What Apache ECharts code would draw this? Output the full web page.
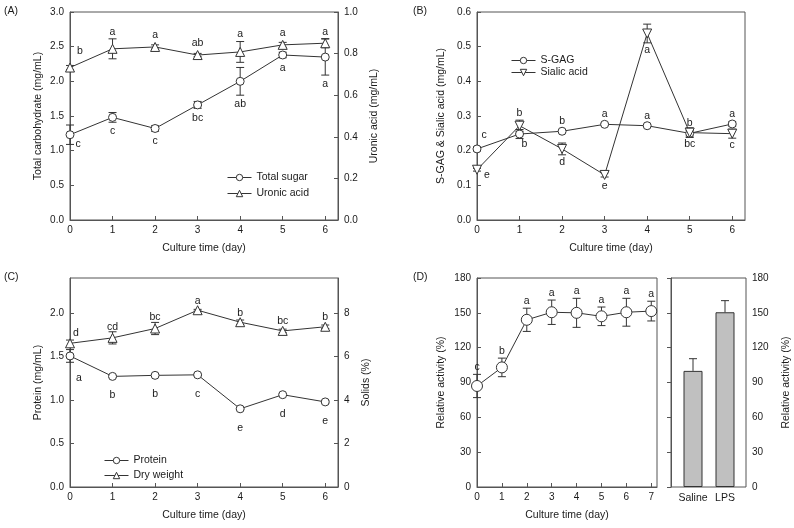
<!DOCTYPE html>
<html lang="en">
<head>
<meta charset="UTF-8">
<title>Culture time course</title>
<script src="https://cdn.jsdelivr.net/npm/echarts@6/dist/echarts.min.js"></script>
<style>
    html, body { margin: 0; background: #fff; }
    #main { width: 794px; height: 528px; }
</style>
</head>
<body>
<div id="main"></div>
<script type="text/javascript">
    // ---- data ----
    var days = [0, 1, 2, 3, 4, 5, 6];
    var daysD = [0, 1, 2, 3, 4, 5, 6, 7];

    // (A) total carbohydrate (left axis) and uronic acid (right axis)
    var totalSugar    = [1.23, 1.48, 1.32, 1.66, 2.00, 2.38, 2.35];
    var totalSugarErr = [0.14, 0.07, 0.04, 0.05, 0.20, 0.04, 0.26];
    var totalSugarSig = ['c', 'c', 'c', 'bc', 'ab', 'a', 'a'];
    var uronic        = [0.733, 0.823, 0.832, 0.793, 0.808, 0.842, 0.850];
    var uronicErr     = [0.010, 0.048, 0.010, 0.008, 0.050, 0.012, 0.022];
    var uronicSig     = ['b', 'a', 'a', 'ab', 'a', 'a', 'a'];

    // (B) S-GAG and sialic acid
    var sgag       = [0.205, 0.248, 0.256, 0.276, 0.272, 0.250, 0.277];
    var sgagErr    = [0.006, 0.013, 0.004, 0.003, 0.003, 0.008, 0.006];
    var sgagSig    = ['c', 'b', 'b', 'a', 'a', 'b', 'a'];
    var sialic     = [0.145, 0.272, 0.205, 0.130, 0.538, 0.252, 0.249];
    var sialicErr  = [0.004, 0.016, 0.017, 0.006, 0.027, 0.014, 0.013];
    var sialicSig  = ['e', 'b', 'd', 'e', 'a', 'bc', 'c'];

    // (C) protein (left axis) and dry weight (right axis)
    var protein    = [1.505, 1.270, 1.282, 1.288, 0.898, 1.060, 0.977];
    var proteinErr = [0.073, 0.012, 0.012, 0.010, 0.010, 0.010, 0.015];
    var proteinSig = ['a', 'b', 'b', 'c', 'e', 'd', 'e'];
    var dryWeight    = [6.60, 6.85, 7.28, 8.12, 7.57, 7.17, 7.36];
    var dryWeightErr = [0.15, 0.28, 0.28, 0.04, 0.10, 0.08, 0.08];
    var dryWeightSig = ['d', 'cd', 'bc', 'a', 'b', 'bc', 'b'];

    // (D) relative activity over culture time, and saline / LPS controls
    var activity    = [87, 103, 144, 150.5, 150, 147, 150.5, 151.5];
    var activityErr = [10, 8, 10, 10.5, 12.5, 8, 12, 8.5];
    var activitySig = ['c', 'b', 'a', 'a', 'a', 'a', 'a', 'a'];
    var groups      = ['Saline', 'LPS'];
    var groupVal    = [100, 150.5];
    var groupErr    = [10.5, 10];

    var INK = '#333';
    var FRAME = '#555';
    var FONT = 'Liberation Sans';
    var TXT = '#1a1a1a';
    var TICK_FS = 10;
    var NAME_FS = 10.5;

    var chart = echarts.init(document.getElementById('main'));

    // line series with open markers
    function lineSeries(name, xi, yi, xs, vals, symbol, size) {
        return {
            name: name, type: 'line', xAxisIndex: xi, yAxisIndex: yi, z: 3,
            data: xs.map(function (d, i) { return [d, vals[i]]; }),
            symbol: symbol, symbolSize: size, showAllSymbol: true,
            lineStyle: { color: INK, width: 1 },
            itemStyle: { color: '#fff', borderColor: INK, borderWidth: 1 },
            emphasis: { disabled: true }
        };
    }

    // error bars + significance letters
    // m: {place: [...], gap: px, off: {code: [dx, dy]}, r: marker radius}
    function errSeries(xi, yi, xs, vals, errs, sig, m, upOnly) {
        return {
            type: 'custom', xAxisIndex: xi, yAxisIndex: yi, z: 2, silent: true,
            data: xs.map(function (d, i) { return [d, vals[i], errs[i]]; }),
            renderItem: function (params, api) {
                var i = params.dataIndex;
                var x = api.value(0), y = api.value(1), e = api.value(2);
                var p = api.coord([x, y]);
                var hi = api.coord([x, y + e]);
                var lo = upOnly ? p : api.coord([x, y - e]);
                var cw = 4;
                var st = { stroke: INK, lineWidth: 1 };
                var kids = [
                    { type: 'line', shape: { x1: p[0], y1: lo[1], x2: p[0], y2: hi[1] }, style: st },
                    { type: 'line', shape: { x1: p[0] - cw, y1: hi[1], x2: p[0] + cw, y2: hi[1] }, style: st }
                ];
                if (!upOnly) {
                    kids.push({ type: 'line', shape: { x1: p[0] - cw, y1: lo[1], x2: p[0] + cw, y2: lo[1] }, style: st });
                }
                if (sig) {
                    var code = m.place[i], tx = p[0], ty;
                    if (code === 'u') ty = Math.min(p[1] - m.r, hi[1]) - m.gap;
                    else if (code === 'd') ty = Math.max(p[1] + m.r, lo[1]) + m.gap;
                    else { tx += m.off[code][0]; ty = p[1] + m.off[code][1]; }
                    kids.push({
                        type: 'text',
                        style: {
                            text: sig[i], x: tx, y: ty, fill: TXT,
                            textAlign: 'center', textVerticalAlign: 'middle',
                            fontSize: NAME_FS, fontFamily: FONT
                        }
                    });
                }
                return { type: 'group', children: kids };
            }
        };
    }

    function xTime(gi, max, ticks) {
        return {
            type: 'value', gridIndex: gi, min: 0, max: max,
            name: 'Culture time (day)', nameLocation: 'middle', nameGap: 23,
            nameTextStyle: { fontSize: NAME_FS, color: TXT, fontFamily: FONT },
            axisLine: { lineStyle: { color: FRAME } },
            axisTick: { inside: true, length: 4, customValues: ticks, lineStyle: { color: FRAME } },
            axisLabel: { customValues: ticks, margin: 5, fontSize: TICK_FS, color: TXT, fontFamily: FONT },
            splitLine: { show: false }
        };
    }

    function yAxis(gi, pos, max, ticks, dec, name, gap) {
        return {
            type: 'value', gridIndex: gi, position: pos, min: 0, max: max,
            name: name, nameLocation: 'middle', nameGap: gap, nameRotate: 90,
            nameTextStyle: { fontSize: NAME_FS, color: TXT, fontFamily: FONT },
            axisLine: { show: true, lineStyle: { color: FRAME } },
            axisTick: { show: true, inside: true, length: 4, customValues: ticks, lineStyle: { color: FRAME } },
            axisLabel: {
                customValues: ticks, margin: 6, fontSize: TICK_FS, color: TXT, fontFamily: FONT,
                formatter: function (v) { return v.toFixed(dec); }
            },
            splitLine: { show: false }
        };
    }

    var frame = { show: true, borderColor: FRAME, borderWidth: 1, backgroundColor: 'transparent' };
    var legText = { fontSize: NAME_FS, color: TXT, fontFamily: FONT };
    var legIcon = {
        itemWidth: 24, itemHeight: 8, selectedMode: false, textStyle: legText, itemTextGap: 6,
        lineStyle: { width: 1, color: INK },
        itemStyle: { color: '#fff', borderColor: INK, borderWidth: 1 }
    };
    var invTri = 'path://M0,0 L10,0 L5,9 Z';

    var tA = [0, 0.5, 1, 1.5, 2, 2.5, 3];
    var tA2 = [0, 0.2, 0.4, 0.6, 0.8, 1];
    var tB = [0, 0.1, 0.2, 0.3, 0.4, 0.5, 0.6];
    var tC = [0, 0.5, 1, 1.5, 2];
    var tC2 = [0, 2, 4, 6, 8];
    var tD = [0, 30, 60, 90, 120, 150, 180];

    chart.setOption({
        animation: false,
        textStyle: { fontFamily: FONT },
        grid: [
            Object.assign({ left: 70, top: 12, width: 268, height: 208 }, frame),
            Object.assign({ left: 477, top: 12, width: 268, height: 208 }, frame),
            Object.assign({ left: 70, top: 278, width: 268, height: 209 }, frame),
            Object.assign({ left: 477, top: 278, width: 180, height: 209 }, frame),
            Object.assign({ left: 671, top: 278, width: 75, height: 209 }, frame),
            // inner band for the two control bars
            { left: 677, top: 278, width: 64, height: 209, show: false }
        ],
        xAxis: [
            xTime(0, 6.3, days),
            xTime(1, 6.3, days),
            xTime(2, 6.3, days),
            xTime(3, 7.23, daysD),
            { type: 'value', gridIndex: 4, min: 0, max: 1, show: false },
            {
                type: 'category', gridIndex: 5, data: groups,
                axisLine: { show: false },
                axisTick: { show: false },
                axisLabel: { interval: 0, margin: 6, fontSize: TICK_FS + 0.5, color: TXT, fontFamily: FONT }
            }
        ],
        yAxis: [
            yAxis(0, 'left', 3, tA, 1, 'Total carbohydrate (mg/mL)', 26),
            yAxis(0, 'right', 1, tA2, 1, 'Uronic acid (mg/mL)', 31),
            yAxis(1, 'left', 0.6, tB, 1, 'S-GAG & Sialic acid (mg/mL)', 30),
            yAxis(2, 'left', 2.4, tC, 1, 'Protein (mg/mL)', 26),
            yAxis(2, 'right', 9.6, tC2, 0, 'Solids (%)', 23),
            yAxis(3, 'left', 180, tD, 0, 'Relative activity (%)', 30),
            yAxis(4, 'right', 180, tD, 0, 'Relative activity (%)', 35),
            { type: 'value', gridIndex: 5, min: 0, max: 180, show: false }
        ],
        legend: [
            Object.assign({ data: ['Total sugar', 'Uronic acid'], orient: 'vertical', left: 222, top: 167, itemGap: 5 }, legIcon),
            Object.assign({ data: ['S-GAG', 'Sialic acid'], orient: 'vertical', left: 506, top: 50, itemGap: 1 }, legIcon),
            Object.assign({ data: ['Protein', 'Dry weight'], orient: 'vertical', left: 99, top: 450, itemGap: 4 }, legIcon)
        ],
        graphic: [
            { type: 'text', left: 4, top: 6, style: { text: '(A)', fontSize: NAME_FS, fill: TXT, fontFamily: FONT } },
            { type: 'text', left: 413, top: 6, style: { text: '(B)', fontSize: NAME_FS, fill: TXT, fontFamily: FONT } },
            { type: 'text', left: 4, top: 272, style: { text: '(C)', fontSize: NAME_FS, fill: TXT, fontFamily: FONT } },
            { type: 'text', left: 413, top: 272, style: { text: '(D)', fontSize: NAME_FS, fill: TXT, fontFamily: FONT } }
        ],
        series: [
            // (A)
            errSeries(0, 0, days, totalSugar, totalSugarErr, totalSugarSig,
                { place: ['dr', 'd', 'd', 'd', 'd', 'd', 'd'], gap: 9, r: 4, off: { dr: [8, 9] } }),
            errSeries(0, 1, days, uronic, uronicErr, uronicSig,
                { place: ['ur', 'u', 'u', 'u', 'u', 'u', 'u'], gap: 7, r: 4.5, off: { ur: [10, -16] } }),
            lineSeries('Total sugar', 0, 0, days, totalSugar, 'circle', 8),
            lineSeries('Uronic acid', 0, 1, days, uronic, 'triangle', 9),
            // (B)
            errSeries(1, 2, days, sgag, sgagErr, sgagSig,
                { place: ['ur', 'dr', 'u', 'u', 'u', 'u', 'u'], gap: 6, r: 4, off: { ur: [7, -14], dr: [5, 10] } }),
            errSeries(1, 2, days, sialic, sialicErr, sialicSig,
                { place: ['r', 'u', 'd', 'd', 'd', 'd', 'd'], gap: 7, r: 4.5, off: { r: [10, 5] } }),
            lineSeries('S-GAG', 1, 2, days, sgag, 'circle', 8),
            lineSeries('Sialic acid', 1, 2, days, sialic, invTri, 9),
            // (C)
            errSeries(2, 3, days, protein, proteinErr, proteinSig,
                { place: ['dr', 'd', 'd', 'd', 'd', 'd', 'd'], gap: 15, r: 4, off: { dr: [9, 22] } }),
            errSeries(2, 4, days, dryWeight, dryWeightErr, dryWeightSig,
                { place: ['ur', 'u', 'u', 'u', 'u', 'u', 'u'], gap: 5, r: 4.5, off: { ur: [6, -10] } }),
            lineSeries('Protein', 2, 3, days, protein, 'circle', 8),
            lineSeries('Dry weight', 2, 4, days, dryWeight, 'triangle', 9),
            // (D)
            errSeries(3, 5, daysD, activity, activityErr, activitySig,
                { place: ['u', 'u', 'u', 'u', 'u', 'u', 'u', 'u'], gap: 7, r: 5.5, off: {} }),
            lineSeries('Activity', 3, 5, daysD, activity, 'circle', 11),
            {
                type: 'bar', xAxisIndex: 5, yAxisIndex: 7, data: groupVal, barWidth: 19, z: 2,
                itemStyle: { color: '#c0c0c0', borderColor: INK, borderWidth: 1 },
                emphasis: { disabled: true }, silent: true
            },
            Object.assign(errSeries(5, 7, [0, 1], groupVal, groupErr, null, null, true), { z: 3 })
        ]
    });
</script>
</body>
</html>
